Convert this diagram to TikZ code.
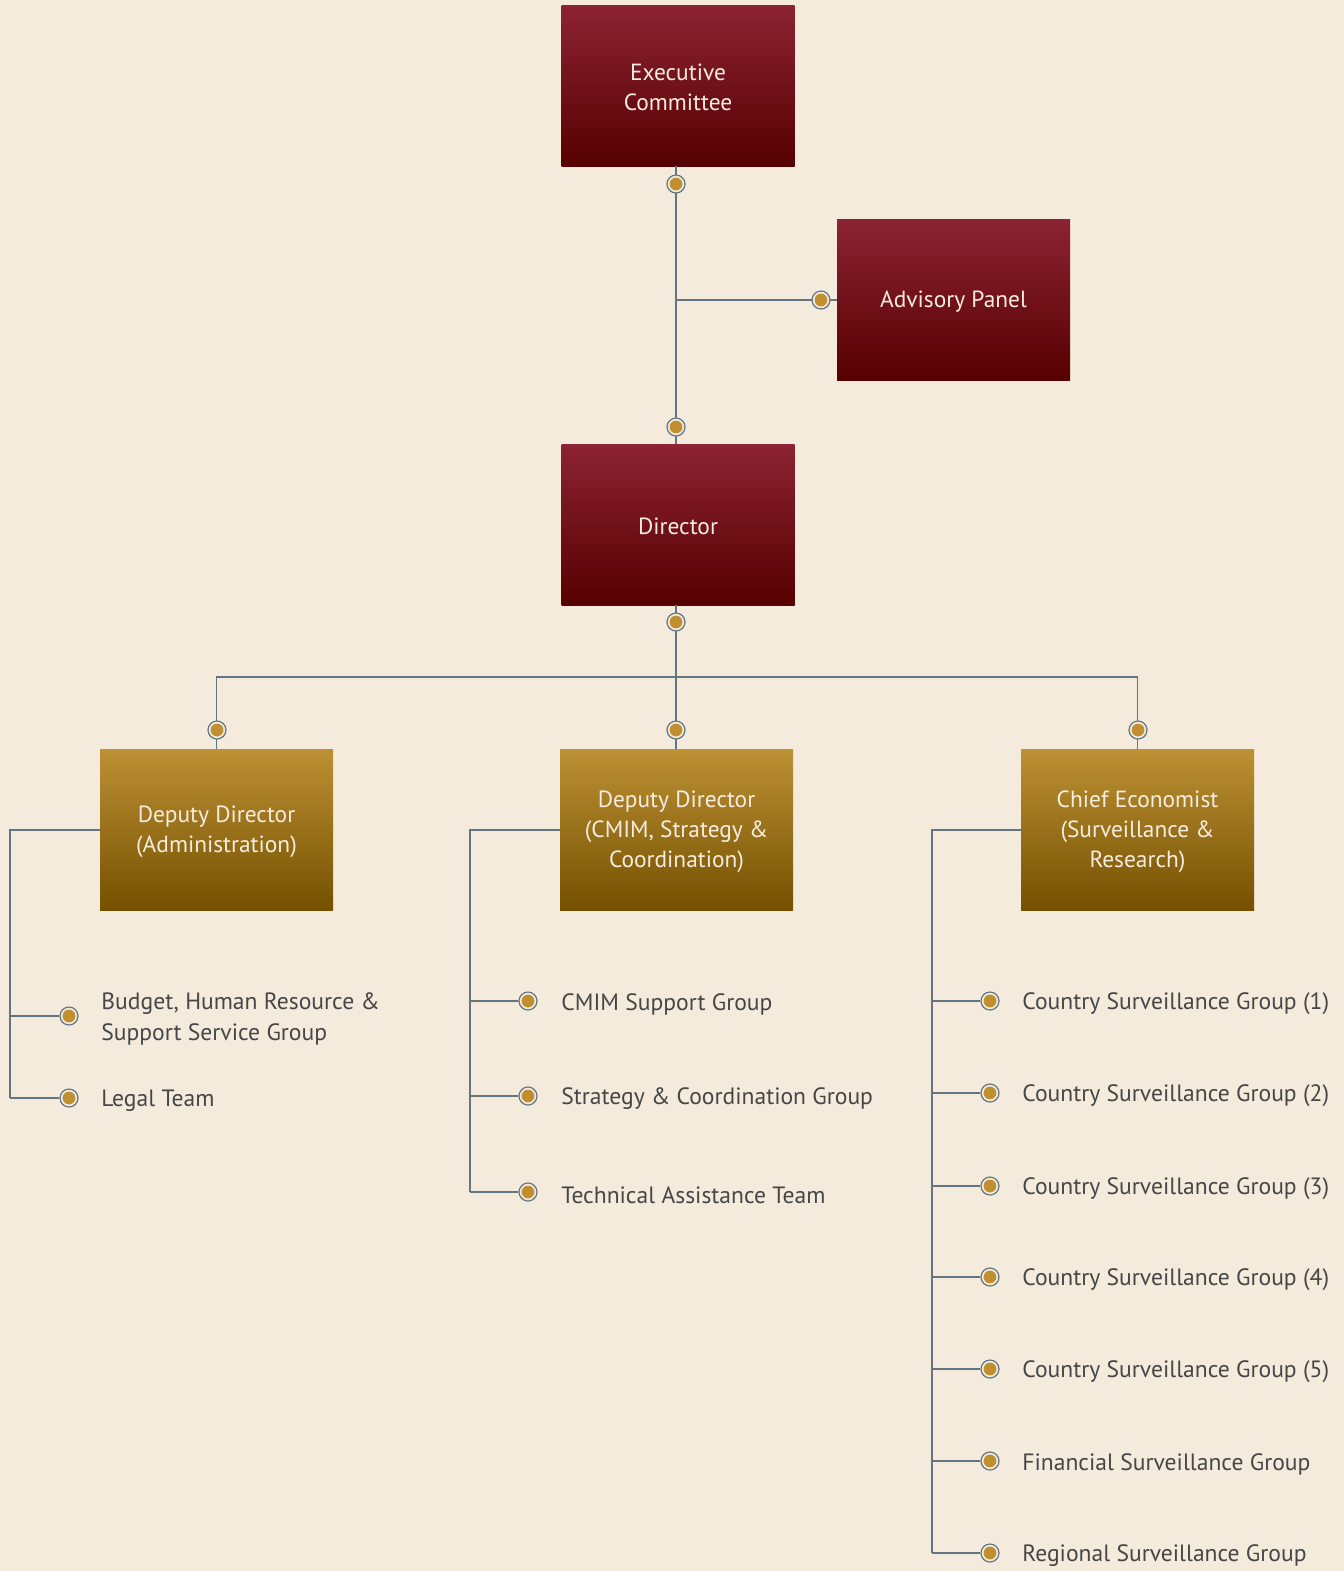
\documentclass[tikz,border=0pt]{standalone}
\usepackage{fontspec}
\setmainfont{PT Sans}
\usetikzlibrary{calc}
\definecolor{bg}{HTML}{F4EBDD}
\definecolor{redtop}{HTML}{8C2333}
\definecolor{redmid}{HTML}{6C0610}
\definecolor{redbot}{HTML}{560000}
\definecolor{goldtop}{HTML}{BD9134}
\definecolor{goldmid}{HTML}{9A7018}
\definecolor{goldbot}{HTML}{745000}
\definecolor{linec}{HTML}{627580}
\definecolor{dotc}{HTML}{BF8F30}
\definecolor{txt}{HTML}{464646}
\definecolor{boxtxt}{HTML}{F6EDE0}
\tikzset{
  boxbase/.style={rectangle, minimum width=116.5pt, minimum height=80.5pt, inner sep=0pt},
  redbox/.style={boxbase, top color=redtop, middle color=redmid, bottom color=redbot},
  goldbox/.style={boxbase, top color=goldtop, middle color=goldmid, bottom color=goldbot},
  boxtext/.style={text=boxtxt, align=center, inner sep=0pt, yshift=-1pt,
    font=\fontsize{11.7}{15}\selectfont},
  conn/.style={draw=linec, line width=0.75pt},
  dotn/.style={circle, minimum size=9pt, inner sep=0pt, draw=linec, line width=0.6pt, fill=bg,
    path picture={\fill[dotc] (path picture bounding box.center) circle (3.2pt);}},
  lbl/.style={anchor=west, text=txt, align=left, inner sep=0pt, yshift=-1.5pt,
    font=\fontsize{11.8}{15.5}\selectfont},
}
\begin{document}
\begin{tikzpicture}[x=0.5pt,y=-0.5pt]
\fill[bg] (0,0) rectangle (1344,1571);
\useasboundingbox (0,0) rectangle (1344,1571);
\begin{scope}[xshift=1pt]
% main boxes
\node[redbox] (exec) at (676,85.5) {};
\node[boxtext] (exect) at (exec.center) {Executive\\Committee};
\node[redbox] (adv) at (951.5,300) {};
\node[boxtext] (advt) at (adv.center) {Advisory Panel};
\node[redbox] (dir) at (676,524.5) {};
\node[boxtext] (dirt) at (dir.center) {Director};
\node[goldbox] (dda) at (214.5,830) {};
\node[boxtext] (ddat) at (dda.center) {Deputy Director\\(Administration)};
\node[goldbox] (ddc) at (674.5,830) {};
\node[boxtext] (ddct) at (ddc.center) {Deputy Director\\(CMIM, Strategy \&\\Coordination)};
\node[goldbox] (ce) at (1135.5,830) {};
\node[boxtext] (cet) at (ce.center) {Chief Economist\\(Surveillance \&\\Research)};

% top connectors
\coordinate (j1) at (674,300);
\coordinate (j2) at (674,677);
\draw[conn] (exec.south -| j1) -- (dir.north -| j1);
\draw[conn] (j1) -- (adv.west);
\draw[conn] (dir.south -| j2) -- (j2);
\draw[conn] (dda.north) |- (ce.north |- j2) -- (ce.north);
\draw[conn] (j2) -- (ddc.north -| j2);
\node[dotn] (e1) at (674,184) {};
\node[dotn] (e2) at (674,427) {};
\node[dotn] (a1) at (819,300) {};
\node[dotn] (r1) at (674,622) {};
\node[dotn] (r2) at (215,730) {};
\node[dotn] (r3) at (674,730) {};
\node[dotn] (r4) at (1136,730) {};

% left subtree
\coordinate (lt) at (8,1098);
\draw[conn] (dda.west) -| (lt);
\node[dotn] (l1) at (67,1016) {};
\node[dotn] (l2) at (67,1098) {};
\draw[conn] (lt |- l1) -- (l1.west);
\draw[conn] (lt) -- (l2.west);
\node[lbl] (l1t) at (99,1016) {Budget, Human Resource \&\\Support Service Group};
\node[lbl] (l2t) at (99,1098) {Legal Team};

% middle subtree
\coordinate (mt) at (468,1192);
\draw[conn] (ddc.west) -| (mt);
\node[dotn] (m1) at (526,1001) {};
\node[dotn] (m2) at (526,1096) {};
\node[dotn] (m3) at (526,1192) {};
\foreach \n in {m1,m2,m3} \draw[conn] (mt |- \n) -- (\n.west);
\node[lbl] (m1t) at (559,1001) {CMIM Support Group};
\node[lbl] (m2t) at (559,1096) {Strategy \& Coordination Group};
\node[lbl] (m3t) at (559,1192) {Technical Assistance Team};

% right subtree
\coordinate (rt) at (930,1553);
\draw[conn] (ce.west) -| (rt);
\node[dotn] (c1) at (988,1001) {};
\node[dotn] (c2) at (988,1093) {};
\node[dotn] (c3) at (988,1186) {};
\node[dotn] (c4) at (988,1277) {};
\node[dotn] (c5) at (988,1369) {};
\node[dotn] (c6) at (988,1461) {};
\node[dotn] (c7) at (988,1553) {};
\foreach \n in {c1,c2,c3,c4,c5,c6,c7} \draw[conn] (rt |- \n) -- (\n.west);
\node[lbl] (c1t) at (1020,1001) {Country Surveillance Group (1)};
\node[lbl] (c2t) at (1020,1093) {Country Surveillance Group (2)};
\node[lbl] (c3t) at (1020,1186) {Country Surveillance Group (3)};
\node[lbl] (c4t) at (1020,1277) {Country Surveillance Group (4)};
\node[lbl] (c5t) at (1020,1369) {Country Surveillance Group (5)};
\node[lbl] (c6t) at (1020,1461) {Financial Surveillance Group};
\node[lbl] (c7t) at (1020,1553) {Regional Surveillance Group};
\end{scope}
\end{tikzpicture}
\end{document}
